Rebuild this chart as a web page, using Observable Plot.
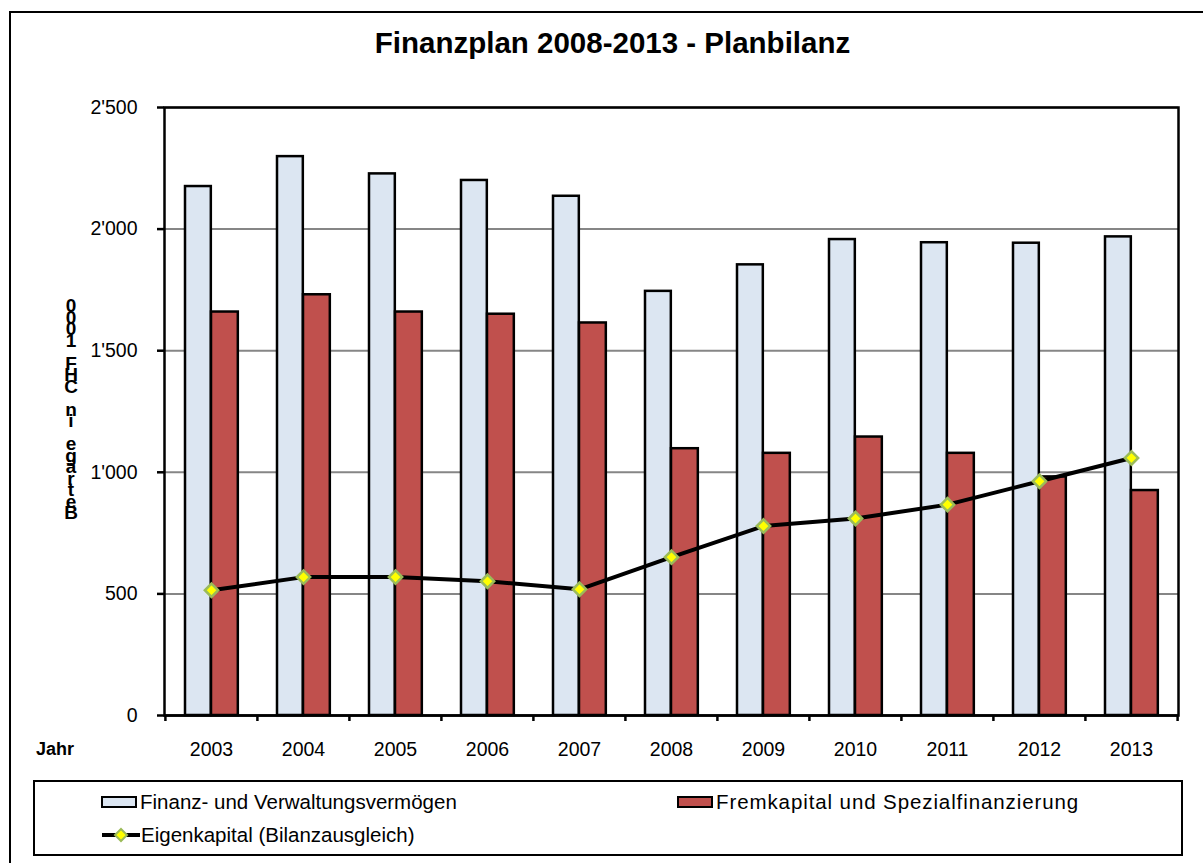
<!DOCTYPE html>
<html>
<head>
<meta charset="utf-8">
<script src="https://cdn.jsdelivr.net/npm/d3@7"></script>
<script src="https://cdn.jsdelivr.net/npm/@observablehq/plot@0.6"></script>
<style>
  html, body { margin: 0; padding: 0; background: #fff; }
  body { width: 1203px; height: 863px; overflow: hidden; position: relative; font-family: "Liberation Sans", Arial, sans-serif; color: #000; }
  #outer { position: absolute; left: 9px; top: 11px; width: 1200px; height: 870px; border: 2.5px solid #000; box-sizing: border-box; }
  #title { position: absolute; left: 0; width: 1225px; top: 28px; text-align: center; font-weight: bold; font-size: 29.5px; line-height: 29px; }
  #chart { position: absolute; left: 0; top: 90px; }
  #ylabel { position: absolute; left: 60px; top: 300px; width: 22px; text-align: center; font-weight: bold; font-size: 19px; line-height: 11.5px; white-space: pre; }
  #jahr { position: absolute; left: 36px; top: 740px; font-weight: bold; font-size: 18px; line-height: 18px; }
  #legend { position: absolute; left: 33px; top: 780px; width: 1150px; height: 76px; border: 2.5px solid #000; box-sizing: border-box; }
  .item { position: absolute; font-size: 20.5px; line-height: 22px; white-space: nowrap; display: flex; align-items: center; }
  .sw { display: inline-block; width: 32px; height: 8px; border: 2.5px solid #000; margin-right: 3px; }
</style>
</head>
<body>
<div id="outer"></div>
<div id="title">Finanzplan 2008-2013 - Planbilanz</div>
<div id="chart"></div>
<div id="ylabel"></div>
<div id="jahr">Jahr</div>
<div id="legend"></div>
<script>
// ---- data ----
const years = ["2003", "2004", "2005", "2006", "2007", "2008", "2009", "2010", "2011", "2012", "2013"];
const assets = [2175, 2298, 2227, 2200, 2135, 1744, 1853, 1957, 1944, 1942, 1968];   // Finanz- und Verwaltungsvermögen
const liabilities = [1659, 1730, 1659, 1650, 1614, 1097, 1078, 1145, 1078, 981, 925]; // Fremkapital und Spezialfinanzierung
const equity = [515, 569, 569, 552, 519, 651, 779, 810, 867, 963, 1059];             // Eigenkapital (Bilanzausgleich)
const yTicks = [0, 500, 1000, 1500, 2000, 2500];
const seriesNames = ["Finanz- und Verwaltungsvermögen", "Fremkapital und Spezialfinanzierung", "Eigenkapital (Bilanzausgleich)"];
const yLabelText = "Beträge in CHF 1000";
const colors = { assets: "#DCE6F2", liabilities: "#C0504D", line: "#000000", markerFill: "#FFFF00", markerStroke: "#9BBB59" };

const rows = years.map((year, i) => ({ year, assets: assets[i], liabilities: liabilities[i], equity: equity[i] }));

const W = 1203, mL = 164, mR = 25;
const bw = (W - mL - mR) / years.length;
const fmt = d => d3.format(",")(d).replace(/,/g, "'");

const chart = Plot.plot({
  width: W,
  height: 685,
  marginLeft: mL,
  marginRight: mR,
  marginTop: 17,
  marginBottom: 60,
  style: { fontFamily: "'Liberation Sans', Arial, sans-serif", fontSize: "19.5px", color: "#000", background: "transparent", overflow: "visible" },
  x: { type: "band", domain: years, padding: 0, label: null },
  y: { domain: [0, 2500], label: null },
  marks: [
    Plot.gridY(yTicks.filter(d => d > 0), { stroke: "#868686", strokeOpacity: 1, strokeWidth: 2 }),
    Plot.barY(rows, { x: "year", y: "assets", fill: colors.assets, stroke: "#000", strokeWidth: 2.5, insetLeft: 20, insetRight: bw - 46 }),
    Plot.barY(rows, { x: "year", y: "liabilities", fill: colors.liabilities, stroke: "#000", strokeWidth: 2.5, insetLeft: 46, insetRight: bw - 73 }),
    Plot.line(rows, { x: "year", y: "equity", stroke: colors.line, strokeWidth: 4 }),
    Plot.dot(rows, { x: "year", y: "equity", symbol: "diamond2", r: 6, fill: colors.markerFill, stroke: colors.markerStroke, strokeWidth: 2.5 }),
    Plot.frame({ stroke: "#000", strokeWidth: 2.5 }),
    Plot.axisY(yTicks, { tickSize: 7, tickPadding: 20, tickFormat: fmt, stroke: "#000", strokeWidth: 2.5, fontSize: 19.5 }),
    Plot.ruleY([0], { stroke: "#000", strokeWidth: 2.5 }),
    Plot.axisX({ tickSize: 0, tickPadding: 27, fontSize: 19.5 }),
    Plot.axisX({ tickSize: 6, dx: -bw / 2, tickFormat: () => "", stroke: "#000", strokeWidth: 2.5 }),
    Plot.axisX([years[years.length - 1]], { tickSize: 6, dx: bw / 2, tickFormat: () => "", stroke: "#000", strokeWidth: 2.5 })
  ]
});
document.getElementById("chart").appendChild(chart);

// stacked y label (characters stacked upright, reading bottom-to-top)
document.getElementById("ylabel").textContent = Array.from(yLabelText).reverse().join("\n");

// legend
const legend = document.getElementById("legend");
function addItem(left, top, swatchHTML, label, spacing) {
  const d = document.createElement("div");
  d.className = "item";
  d.style.left = left + "px";
  d.style.top = top + "px";
  d.innerHTML = swatchHTML;
  const s = document.createElement("span");
  s.textContent = label;
  if (spacing) s.style.letterSpacing = spacing;
  d.appendChild(s);
  legend.appendChild(d);
}
addItem(66, 9, `<span class="sw" style="background:${colors.assets}"></span>`, seriesNames[0]);
addItem(642, 9, `<span class="sw" style="background:${colors.liabilities}"></span>`, seriesNames[1], "0.9px");
addItem(66, 42, `<svg width="40" height="16" style="margin-right:0px"><line x1="1" y1="8" x2="39" y2="8" stroke="#000" stroke-width="4"/><path d="M20,2 L26,8 L20,14 L14,8 Z" fill="${colors.markerFill}" stroke="${colors.markerStroke}" stroke-width="2"/></svg>`, seriesNames[2]);
</script>
</body>
</html>
